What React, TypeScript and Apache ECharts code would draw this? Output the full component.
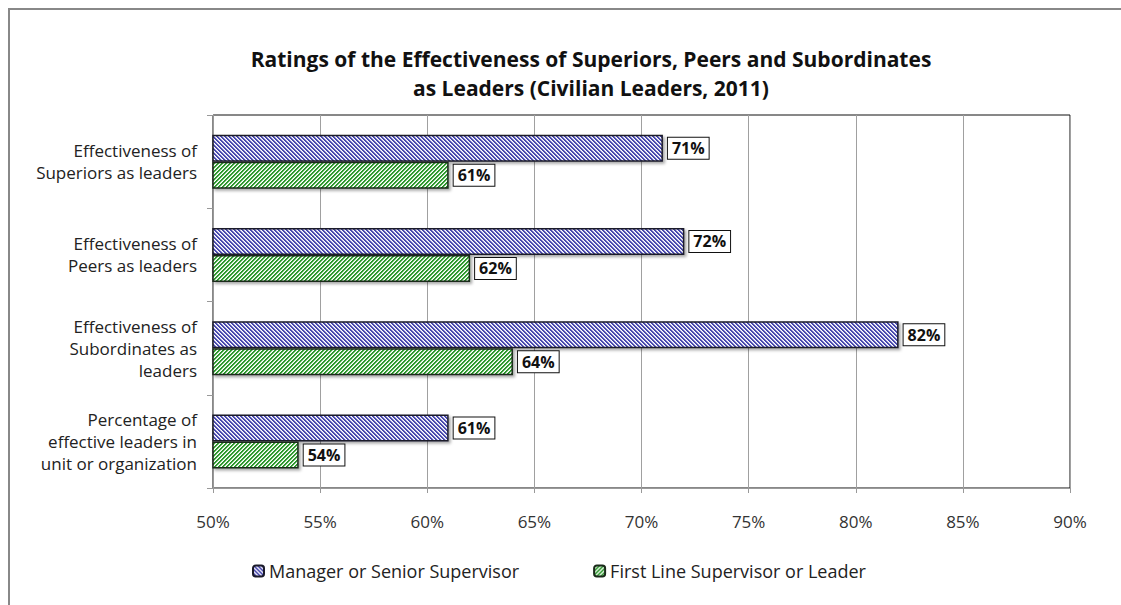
import React, { useEffect, useRef } from "react";
import * as echarts from "echarts";

const categories = [
  "Effectiveness of\nSuperiors as leaders",
  "Effectiveness of\nPeers as leaders",
  "Effectiveness of\nSubordinates as\nleaders",
  "Percentage of\neffective leaders in\nunit or organization",
];
const managerValues = [71, 72, 82, 61];
const firstLineValues = [61, 62, 64, 54];
const seriesNames = ["Manager or Senior Supervisor", "First Line Supervisor or Leader"];
const titleText = "Ratings of the Effectiveness of Superiors, Peers and Subordinates\nas Leaders (Civilian Leaders, 2011)";

const FONT = "'Open Sans', sans-serif";

function stripePattern(color: string, mid: string, down: boolean): string {
  const c = document.createElement("canvas");
  c.width = 4;
  c.height = 4;
  const ctx = c.getContext("2d")!;
  ctx.fillStyle = "#fff";
  ctx.fillRect(0, 0, 4, 4);
  for (let y = 0; y < 4; y++) {
    for (let x = 0; x < 4; x++) {
      const k = down ? (x - y + 8) % 4 : (x + y) % 4;
      if (k === 0 || k === 1) {
        ctx.fillStyle = color;
        ctx.fillRect(x, y, 1, 1);
      } else if (k === 2) {
        ctx.fillStyle = mid;
        ctx.fillRect(x, y, 1, 1);
      }
    }
  }
  return c.toDataURL();
}

export default function App() {
  const ref = useRef<HTMLDivElement>(null);
  useEffect(() => {
    document.documentElement.style.overflow = "hidden";
    document.body.style.margin = "0";
    document.body.style.overflow = "hidden";
    if (!ref.current) return;
    const chart = echarts.init(ref.current, undefined, { renderer: "svg" });
    const label = {
      show: true,
      position: "right",
      distance: 5,
      formatter: "{c}%",
      backgroundColor: "#fff",
      borderColor: "#111",
      borderWidth: 1,
      padding: [3, 4, 2, 4],
      fontWeight: "bold",
      fontSize: 16,
      color: "#111",
      fontFamily: FONT,
    };
    const bluePat = { image: stripePattern("#4a4aae", "#c4c4e6", true), repeat: "repeat" };
    const greenPat = { image: stripePattern("#2e982e", "#bfe2bf", false), repeat: "repeat" };
    chart.setOption({
      animation: false,
      textStyle: { fontFamily: FONT },
      title: {
        text: titleText,
        left: 581,
        top: 34,
        padding: 0,
        textAlign: "center",
        textStyle: { fontSize: 21, fontWeight: "bold", color: "#111", lineHeight: 29, fontFamily: FONT },
      },
      legend: {
        left: 237,
        top: 547,
        itemWidth: 11,
        itemHeight: 11,
        itemGap: 74,
        textStyle: { fontSize: 18, color: "#222", fontFamily: FONT },
        data: seriesNames,
      },
      grid: {
        left: 203,
        top: 105,
        width: 857,
        height: 373,
        show: true,
        borderColor: "#111",
        borderWidth: 1,
        containLabel: false,
      },
      xAxis: {
        type: "value",
        min: 50,
        max: 90,
        interval: 5,
        axisLabel: { formatter: "{value}%", fontSize: 17, color: "#333", margin: 25, fontFamily: FONT },
        axisLine: { show: true, lineStyle: { color: "#999" } },
        axisTick: { show: true, length: 5, lineStyle: { color: "#999" } },
        splitLine: { show: true, lineStyle: { color: "#a0a0a0" } },
      },
      yAxis: {
        type: "category",
        inverse: true,
        data: categories,
        axisLabel: { fontSize: 17, color: "#222", lineHeight: 22, margin: 16, fontFamily: FONT },
        axisLine: { show: true, lineStyle: { color: "#999" } },
        axisTick: { show: true, length: 6, lineStyle: { color: "#999" } },
      },
      series: [
        {
          name: seriesNames[0],
          type: "bar",
          data: managerValues,
          barWidth: 27,
          barGap: "0%",
          label,
          itemStyle: {
            color: bluePat,
            borderColor: "#1a1a2a",
            borderWidth: 1.5,
            shadowBlur: 3,
            shadowColor: "rgba(0,0,0,0.35)",
            shadowOffsetX: 2,
            shadowOffsetY: 2,
          },
        },
        {
          name: seriesNames[1],
          type: "bar",
          data: firstLineValues,
          barWidth: 27,
          barGap: "0%",
          label,
          itemStyle: {
            color: greenPat,
            borderColor: "#1a2a1a",
            borderWidth: 1.5,
            shadowBlur: 3,
            shadowColor: "rgba(0,0,0,0.35)",
            shadowOffsetX: 2,
            shadowOffsetY: 2,
          },
        },
      ],
    });
    return () => chart.dispose();
  }, []);
  return (
    <div
      style={{
        marginLeft: 8,
        marginTop: 8,
        width: 1200,
        height: 640,
        boxSizing: "border-box",
        borderLeft: "2px solid #888",
        borderTop: "2px solid #888",
        background: "#fff",
      }}
    >
      <div ref={ref} style={{ width: 1180, height: 620 }} />
    </div>
  );
}
